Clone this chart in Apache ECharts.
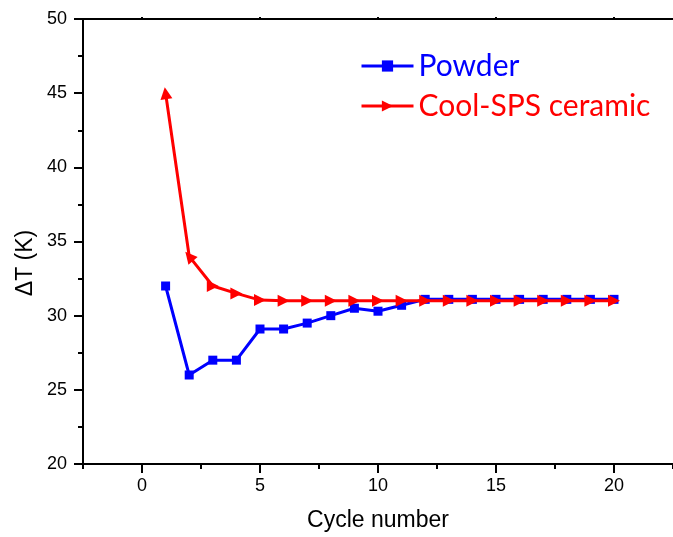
<!DOCTYPE html>
<html>
<head>
<meta charset="utf-8">
<script src="https://cdn.jsdelivr.net/npm/echarts@6/dist/echarts.min.js"></script>
<style>
  html, body { margin: 0; padding: 0; background: #fff; }
  #chart { width: 673px; height: 537px; }
</style>
</head>
<body>
<div id="chart"></div>
<script>
// Temperature span per cycle for the two samples
const cycles = [1, 2, 3, 4, 5, 6, 7, 8, 9, 10, 11, 12, 13, 14, 15, 16, 17, 18, 19, 20];
const powder = [32, 26, 27, 27, 29.1, 29.1, 29.5, 30, 30.5, 30.3, 30.7, 31.1, 31.1, 31.1, 31.1, 31.1, 31.1, 31.1, 31.1, 31.1];
const coolSps = [45, 34, 32, 31.5, 31.05, 31, 31, 31, 31, 31, 31, 31, 31, 31, 31, 31, 31, 31, 31, 31];

const xMajorTicks = [0, 5, 10, 15, 20];
const xMinorTicks = [-2.5, 2.5, 7.5, 12.5, 17.5, 22.5];
const seriesNames = ['Powder', 'Cool-SPS ceramic'];

const font = '"Liberation Sans", Arial, sans-serif';
const legendFont = 'Lato, "Open Sans", sans-serif';
const axisLine = { show: true, onZero: false, lineStyle: { color: '#000', width: 2 } };

const chart = echarts.init(document.getElementById('chart'), null, { renderer: 'canvas' });

chart.setOption({
  animation: false,
  backgroundColor: '#fff',
  grid: { left: 83, top: 19, right: -8, bottom: 72, containLabel: false },
  legend: {
    orient: 'vertical',
    left: 360,
    top: 51,
    padding: 0,
    itemWidth: 52,
    itemHeight: 14,
    itemGap: 10,
    lineStyle: { width: 3 },
    data: [
      { name: seriesNames[0], textStyle: { color: '#0000ff' } },
      { name: seriesNames[1], textStyle: { color: '#ff0000' } }
    ],
    textStyle: { fontFamily: legendFont, fontSize: 30, lineHeight: 30 }
  },
  xAxis: [
    {
      type: 'value', position: 'bottom', min: -2.5, max: 22.5,
      name: 'Cycle number', nameLocation: 'middle', nameGap: 45,
      nameTextStyle: { fontFamily: font, fontSize: 23, color: '#000' },
      axisLine: axisLine,
      axisTick: { show: true, inside: false, length: 9, customValues: xMajorTicks, lineStyle: { color: '#000', width: 2 } },
      axisLabel: { show: true, margin: 13, customValues: xMajorTicks, fontFamily: font, fontSize: 18, color: '#000' },
      splitLine: { show: false }
    },
    {
      type: 'value', position: 'bottom', min: -2.5, max: 22.5,
      axisLine: { show: false },
      axisTick: { show: true, inside: false, length: 5, customValues: xMinorTicks, lineStyle: { color: '#000', width: 2 } },
      axisLabel: { show: false },
      splitLine: { show: false }
    },
    {
      type: 'value', position: 'top', min: -2.5, max: 22.5,
      axisLine: axisLine,
      axisTick: { show: true, inside: false, length: 2, customValues: xMajorTicks, lineStyle: { color: '#000', width: 2 } },
      axisLabel: { show: false },
      splitLine: { show: false }
    }
  ],
  yAxis: {
    type: 'value', min: 20, max: 50, interval: 5,
    axisLine: axisLine,
    axisTick: { show: true, inside: false, length: 9, lineStyle: { color: '#000', width: 2 } },
    minorTick: { show: true, splitNumber: 2, length: 5, lineStyle: { color: '#000', width: 2 } },
    axisLabel: { margin: 16, fontFamily: font, fontSize: 18, color: '#000' },
    splitLine: { show: false }
  },
  graphic: [
    {
      type: 'text',
      x: 26, y: 263, rotation: Math.PI / 2,
      style: { text: '\u0394T (K)', fontFamily: font, fontSize: 23, fill: '#000', align: 'center', verticalAlign: 'middle' }
    }
  ],
  series: [
    {
      name: seriesNames[0],
      type: 'line',
      xAxisIndex: 0,
      data: cycles.map((c, i) => [c, powder[i]]),
      symbol: 'rect',
      symbolSize: 9,
      lineStyle: { color: '#0000ff', width: 3 },
      itemStyle: { color: '#0000ff' },
      z: 2
    },
    {
      name: seriesNames[1],
      type: 'line',
      xAxisIndex: 0,
      // first markers follow the steep drop, the rest point along the flat run
      data: cycles.map((c, i) => ({
        value: [c, coolSps[i]],
        symbolRotate: i === 0 ? 8 : (i === 1 ? 40 : -90)
      })),
      symbol: 'triangle',
      symbolRotate: -90,
      symbolSize: 12,
      lineStyle: { color: '#ff0000', width: 3 },
      itemStyle: { color: '#ff0000' },
      z: 3
    }
  ]
});
</script>
</body>
</html>
